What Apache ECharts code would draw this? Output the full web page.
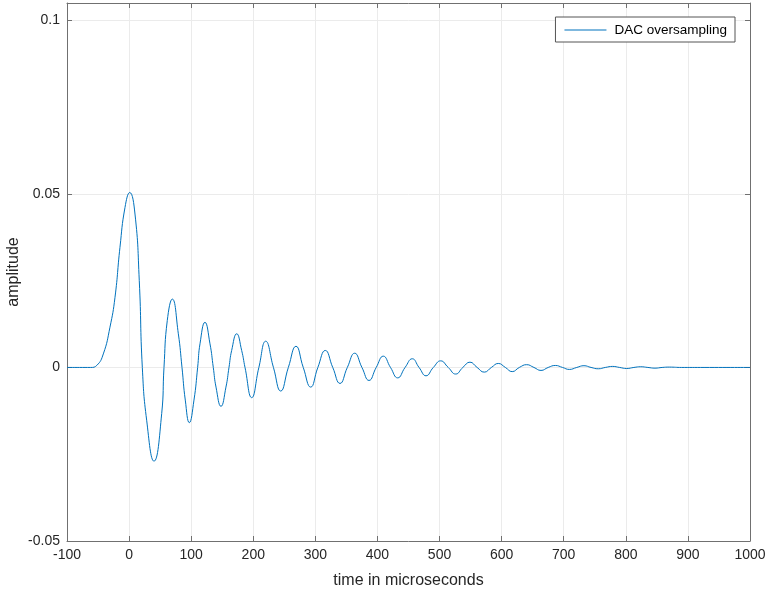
<!DOCTYPE html>
<html>
<head>
<meta charset="utf-8">
<script src="https://cdn.jsdelivr.net/npm/echarts@6/dist/echarts.min.js"></script>
<style>
html,body{margin:0;padding:0;background:#fff;}
#chart{width:768px;height:592px;}
</style>
</head>
<body>
<div id="chart"></div>
<script>
// time (microseconds) and amplitude
var timeUs = [-100, -80, -62, -52, -41.5, -30.8, -22.7, -14.7, -6.6, 1, 9.5, 16.4, 21.3, 28.3, 40.1, 52.5, 56.2, 61.5, 69.6,
  79.3, 85.2, 90.5, 97, 104.5, 110.4, 114.2, 122.2, 130.3, 135.6, 140, 148, 156, 160.9, 165.2, 173.3, 181.3, 186.7,
  197.5, 209, 220, 232.5, 244.2, 256.5, 268.8, 280.5, 292.5, 304, 316,
  328, 339.7, 351.5, 363.3, 375, 386.4, 398, 409.4, 421, 432.6, 444.5, 456.1, 467, 478.2, 490, 501.8, 514, 526, 537.5, 549,
  560.5, 572, 583.5, 594.6, 606, 617, 628.5, 640.3, 652, 663.4, 675, 686.5, 698, 709, 721, 732.6, 744, 755.7, 767, 778.9,
  790, 801.4, 813, 824, 835.5, 847, 858.5, 870, 890, 920, 1000];
var amplitude = [0, 0, 0, 0.0006, 0.0039, 0.0116, 0.0202, 0.0346, 0.0461, 0.0504, 0.0442, 0.025, 0, -0.0152, -0.027, -0.0133, 0, 0.0135, 0.0197,
  0.0097, 0, -0.0094, -0.0159, -0.0094, 0, 0.0068, 0.0130, 0.0068, 0, -0.00566, -0.0112, -0.00566, 0, 0.0049, 0.0097, 0.0049, 0,
  -0.0087, 0, 0.00756, 0, -0.0068, 0, 0.0061, 0, -0.00566, 0, 0.0049,
  0, -0.0046, 0, 0.0041, 0, -0.00374, 0, 0.00325, 0, -0.0030, 0, 0.0025, 0, -0.0024, 0, 0.0019, 0, -0.0019, 0, 0.00152,
  0, -0.00135, 0, 0.00115, 0, -0.0012, 0, 0.0008, 0, -0.00086, 0, 0.00057, 0, -0.00057, 0, 0.0005, 0, -0.00038, 0, 0.0003,
  0, -0.0003, 0, 0.0002, 0, -0.0002, 0, 0.0001, 0, 0, 0];
var xTicks = {min: -100, max: 1000, interval: 100};
var yTicks = {min: -0.05, max: 0.105, interval: 0.05};
var yTickLabels = {'-0.05': '-0.05', '0': '0', '0.05': '0.05', '0.1': '0.1'};
var seriesName = 'DAC oversampling';

var points = timeUs.map(function (t, i) { return [t, amplitude[i]]; });
var fontFam = '"Liberation Sans", Arial, Helvetica, sans-serif';
var axisCol = '#707070';
function yFmt(v) {
  var k = (Math.round(v * 1000) / 1000).toString();
  return yTickLabels.hasOwnProperty(k) ? yTickLabels[k] : '';
}
function xFmt(v) { return String(v); }
var chart = echarts.init(document.getElementById('chart'), null, {renderer: 'canvas'});
chart.setOption({
  backgroundColor: '#fff',
  animation: false,
  grid: {left: 67, right: 18, top: 3, bottom: 51, containLabel: false, outerBoundsMode: 'none'},
  legend: {
    data: [seriesName], right: 33, top: 17, orient: 'vertical',
    backgroundColor: '#fff', borderColor: '#555', borderWidth: 1,
    padding: [6, 8, 5, 9], itemWidth: 42, itemHeight: 14, itemGap: 4,
    icon: 'path://M0,0 L45,0 L45,1 L0,1 Z',
    textStyle: {fontFamily: fontFam, fontSize: 13.5, color: '#000', padding: [0, 0, 0, 3]}
  },
  xAxis: [{
    type: 'value', min: xTicks.min, max: xTicks.max, interval: xTicks.interval,
    name: 'time in microseconds', nameLocation: 'middle', nameGap: 32,
    nameTextStyle: {fontFamily: fontFam, fontSize: 16, color: '#262626'},
    axisLine: {show: true, onZero: false, lineStyle: {color: axisCol, width: 1}},
    axisTick: {show: true, inside: true, length: 5, lineStyle: {color: axisCol}},
    axisLabel: {fontFamily: fontFam, fontSize: 14, color: '#262626', margin: 7, formatter: xFmt},
    splitLine: {show: true, lineStyle: {color: '#ebebeb', width: 1}}
  }, {
    type: 'value', position: 'top', min: xTicks.min, max: xTicks.max, interval: xTicks.interval,
    axisLine: {show: true, onZero: false, lineStyle: {color: axisCol, width: 1}},
    axisTick: {show: true, inside: true, length: 5, lineStyle: {color: axisCol}},
    axisLabel: {show: false}, splitLine: {show: false}
  }],
  yAxis: [{
    type: 'value', min: yTicks.min, max: yTicks.max, interval: yTicks.interval,
    name: 'amplitude', nameLocation: 'middle', nameGap: 45, nameMoveOverlap: false,
    nameTextStyle: {fontFamily: fontFam, fontSize: 16, color: '#262626'},
    axisLine: {show: true, onZero: false, lineStyle: {color: axisCol, width: 1}},
    axisTick: {show: true, inside: true, length: 5, lineStyle: {color: axisCol}},
    axisLabel: {fontFamily: fontFam, fontSize: 14, color: '#262626', margin: 7, formatter: yFmt},
    splitLine: {show: true, lineStyle: {color: '#ebebeb', width: 1}}
  }, {
    type: 'value', position: 'right', min: yTicks.min, max: yTicks.max, interval: yTicks.interval,
    axisLine: {show: true, onZero: false, lineStyle: {color: axisCol, width: 1}},
    axisTick: {show: true, inside: true, length: 5, lineStyle: {color: axisCol}},
    axisLabel: {show: false}, splitLine: {show: false}
  }],
  series: [{
    name: seriesName, type: 'line', data: points, showSymbol: false, symbol: 'none',
    smooth: 0.5,
    lineStyle: {color: '#0072BD', width: 1},
    itemStyle: {color: '#0072BD'}
  }]
});
</script>
</body>
</html>
